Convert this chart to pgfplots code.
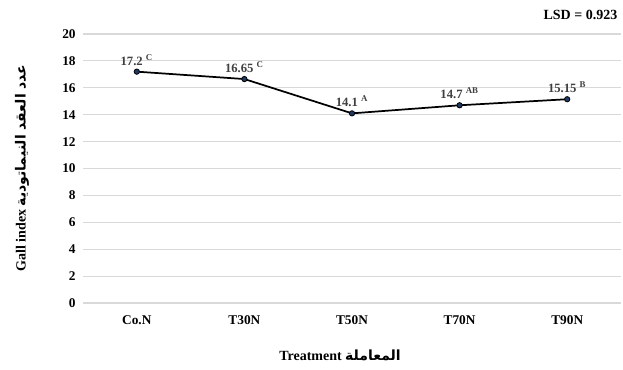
\documentclass[border=0pt]{standalone}
\usepackage{fontspec}
\setmainfont{Liberation Serif}
\newfontfamily\arabicfont[Script=Arabic]{DejaVu Sans}
\usepackage{pgfplots}
\pgfplotsset{compat=1.18}
\TeXXeTstate=1
\definecolor{gridc}{HTML}{D9D9D9}
\definecolor{labc}{HTML}{404040}
\definecolor{markc}{HTML}{1F3864}
\begin{document}
\begin{tikzpicture}[x=0.75pt,y=0.75pt]
\path[use as bounding box] (-83,-67) rectangle (540,303);
\begin{axis}[
  at={(0,0)}, anchor=south west,
  scale only axis,
  width=403.5pt, height=201.75pt,
  xmin=-0.5, xmax=4.5, ymin=0, ymax=20,
  ytick={0,2,...,20},
  xtick={0,1,2,3,4},
  xticklabels={Co.N,T30N,T50N,T70N,T90N},
  axis line style={draw=none},
  ymajorgrids, grid style={gridc, line width=0.8pt},
  major tick length=0pt,
  tick label style={font=\fontsize{10}{12}\selectfont\bfseries, text=black},
  /pgf/number format/assume math mode=true,
  yticklabel style={xshift=-2pt},
  xticklabel style={yshift=-6pt},
  clip=false,
]
\addplot[black, line width=1.3pt, mark=*, mark size=2pt,
  mark options={fill=markc, draw=black, line width=0.6pt},
  nodes near coords, point meta=explicit symbolic,
  every node near coord/.append style={font=\fontsize{9.5}{11}\selectfont\bfseries, text=labc, anchor=south, yshift=1pt}]
coordinates {
 (0,17.2) [17.2 \textsuperscript{C}]
 (1,16.65) [16.65 \textsuperscript{C}]
 (2,14.1) [14.1 \textsuperscript{A}]
 (3,14.7) [14.7 \textsuperscript{AB}]
 (4,15.15) [15.15 \textsuperscript{B}]
};
\end{axis}
\node[anchor=east, font=\fontsize{10.5}{12}\selectfont\bfseries] at (539,288) {LSD = 0.923};
\node[font=\fontsize{10.5}{12}\selectfont\bfseries] at (257,-52) {Treatment {\arabicfont\beginR المعاملة\endR}};
\node[rotate=90, font=\fontsize{10.5}{12}\selectfont\bfseries] at (-61,135) {Gall index {\arabicfont\beginR عدد العقد النيماتودية\endR}};
\end{tikzpicture}
\end{document}
